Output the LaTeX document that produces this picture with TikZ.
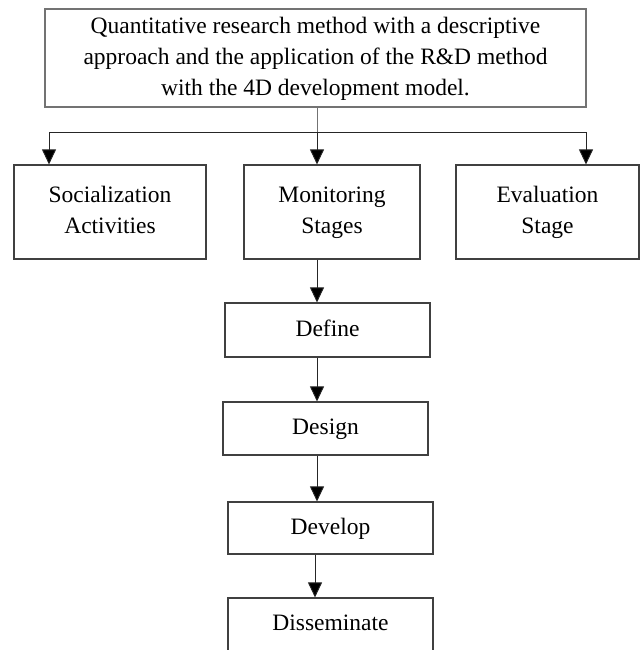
\documentclass[tikz,border=0pt]{standalone}
\usepackage{fontspec}
\setmainfont{Liberation Serif}
\usetikzlibrary{arrows.meta}
\begin{document}
\begin{tikzpicture}[x=1pt,y=-1pt,
  every node/.style={font=\fontsize{23.5}{31}\selectfont, align=center, inner sep=0pt},
  boxtop/.style={draw=black!55, line width=1.1pt},
  stagebox/.style={draw=black!75, line width=1.1pt},
  link/.style={draw=black!85, line width=0.9pt},
  arr/.style={link, -{Triangle[width=14pt,length=15pt,fill=black]}}]
\useasboundingbox (0,0) rectangle (643,650);
\clip (0,0) rectangle (643,650);
\node[boxtop, minimum width=541pt, minimum height=98pt] (top) at (315.5,58)
  {Quantitative research method with a descriptive\strut\\approach and the application of the R\&D method\strut\\with the 4D development model.\strut};
\node[stagebox, minimum width=192pt, minimum height=94pt] (soc) at (110,212) {Socialization\strut\\Activities\strut};
\node[stagebox, minimum width=176pt, minimum height=94pt] (mon) at (332,212) {Monitoring\strut\\Stages\strut};
\node[stagebox, minimum width=183pt, minimum height=94pt] (eva) at (547.5,212) {Evaluation\strut\\Stage\strut};
\node[stagebox, minimum width=205pt, minimum height=54pt] (def) at (327.5,330) {Define\strut};
\node[stagebox, minimum width=205pt, minimum height=53pt] (des) at (325.5,428.5) {Design\strut};
\node[stagebox, minimum width=205pt, minimum height=52pt] (dev) at (330.5,528) {Develop\strut};
\node[stagebox, minimum width=205pt, minimum height=60pt] (dis) at (330.5,628) {};
\node (distext) at (330.5,624) {Disseminate\strut};
\coordinate (jl) at (49,132);
\coordinate (jc) at (317,132);
\coordinate (jr) at (586,132);
\coordinate (ax) at (317,0);
\coordinate (bx) at (315,0);
\draw[link, draw=black!55] (top.south -| jc) -- (jc);
\draw[link] (jl) -- (jr);
\draw[arr] (jl) -- (soc.north -| jl);
\draw[arr] (jc) -- (mon.north -| jc);
\draw[arr] (jr) -- (eva.north -| jr);
\draw[arr] (mon.south -| ax) -- (def.north -| ax);
\draw[arr] (def.south -| ax) -- (des.north -| ax);
\draw[arr] (des.south -| ax) -- (dev.north -| ax);
\draw[arr] (dev.south -| bx) -- (dis.north -| bx);
\end{tikzpicture}
\end{document}
